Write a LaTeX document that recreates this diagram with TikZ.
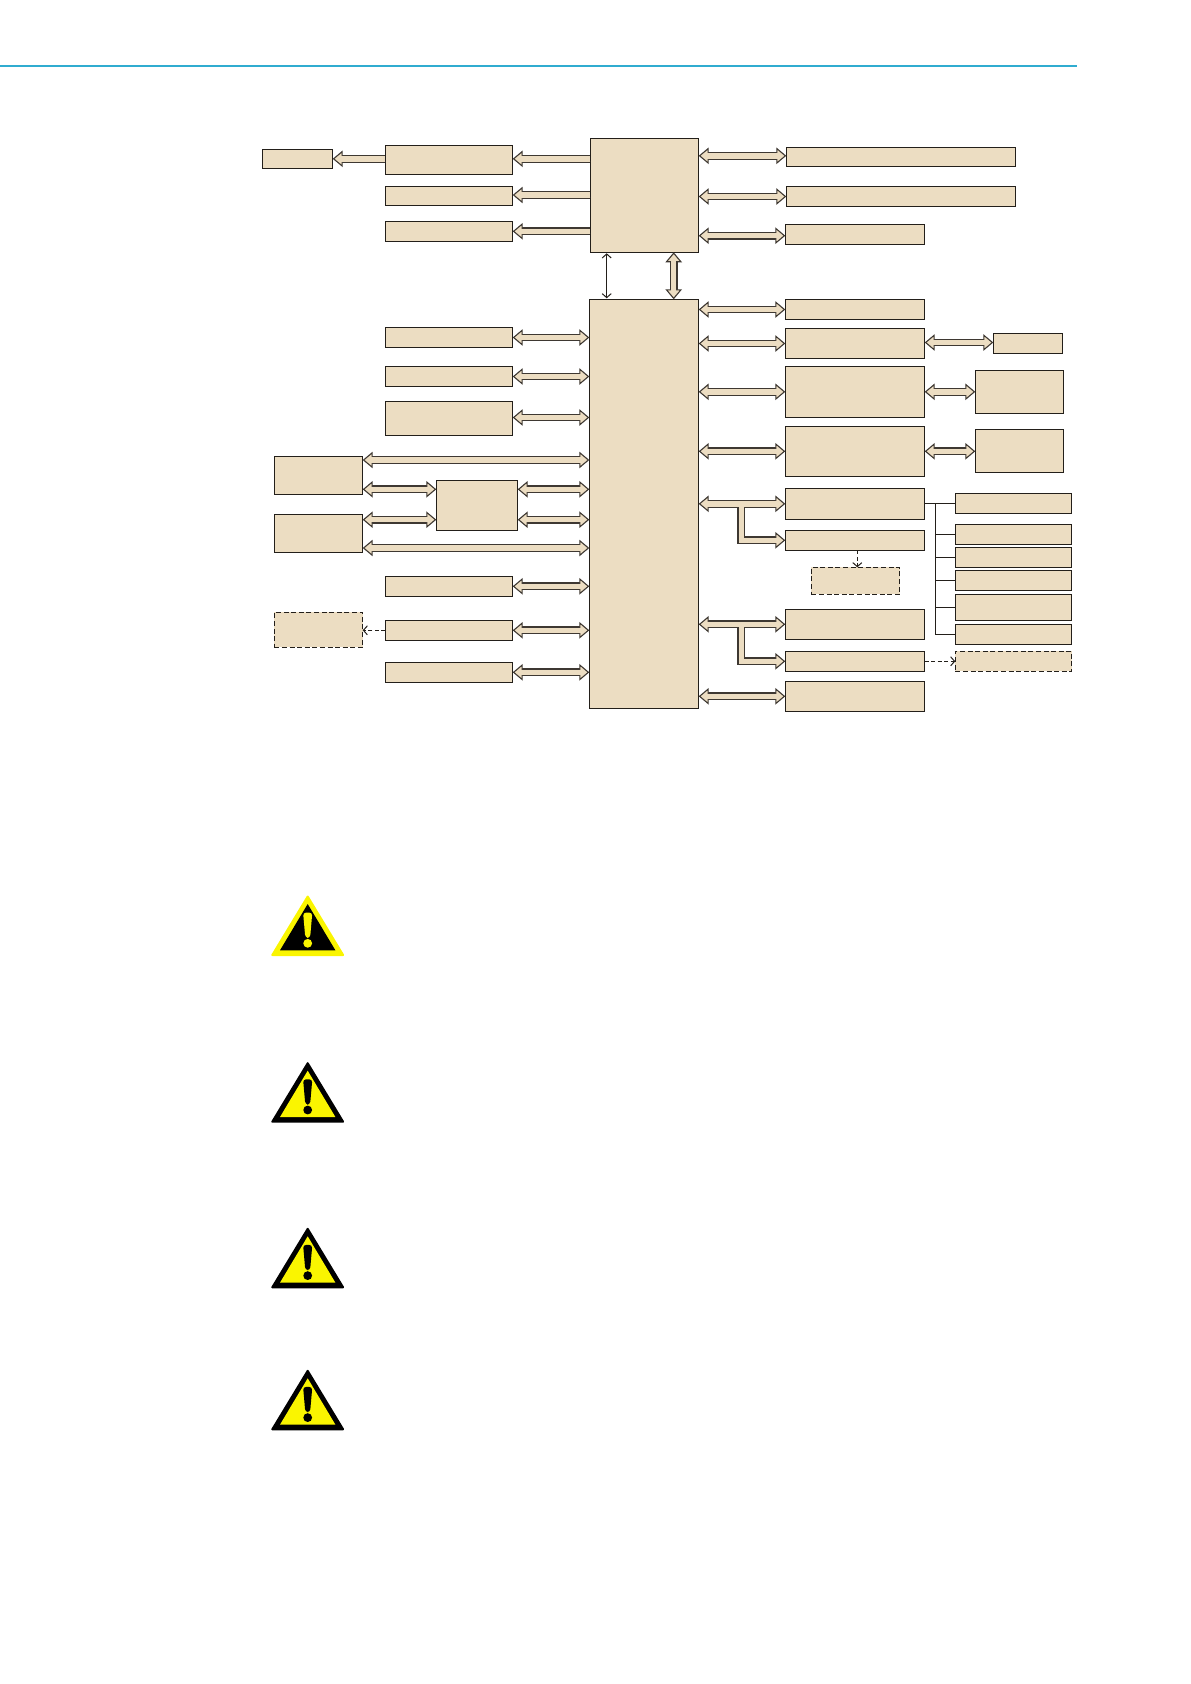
\documentclass[tikz,border=0pt]{standalone}
\usepackage{xcolor}
\usepackage{tikz}
\usetikzlibrary{arrows.meta,positioning}
\definecolor{blocktan}{RGB}{236, 221, 194}
\definecolor{blockline}{RGB}{35, 31, 26}
\definecolor{arrowline}{RGB}{62, 56, 50}
\definecolor{headerblue}{RGB}{48, 172, 208}
\definecolor{warnyellow}{RGB}{250, 245, 0}
\newcommand{\warnsign}[3]{
    \begin{scope}[shift={#1}]
        \fill[#2, draw=#2, line width=2pt, line join=round] (0,1.5) -- (35.4,60) -- (-35.4,60) -- cycle;
        \fill[#3] (0,9) -- (27.7,55.3) -- (-27.7,55.3) -- cycle;
        \fill[#2, rounded corners=3pt] (-4.6,17.6) -- (4.6,17.6) -- (2.4,42.8) -- (-2.4,42.8) -- cycle;
        \fill[#2] (0,48.3) circle[radius=4.4];
    \end{scope}
}

\begin{document}
\begin{tikzpicture}[
    x=1pt, y=-1pt,
    every node/.style={inner sep=0pt, outer sep=0pt},
    block/.style={rectangle, draw=blockline, fill=blocktan, line width=1.1pt},
    blockwide/.style={block, minimum width=127.4pt},
    blockright/.style={block, minimum width=139.4pt},
    blocklist/.style={block, minimum width=116.4pt},
    blockside/.style={block, minimum width=88.4pt},
    optional/.style={dashed, dash pattern=on 5pt off 2.6pt},
    fattip/.tip={Triangle[length=10pt, width=16.5pt, line width=1.1pt, fill=blocktan, color=arrowline]},
    thintip/.tip={Straight Barb[length=4pt, width=9pt, line width=1pt]},
    fatbase/.style={draw=arrowline, line width=7.8pt},
    fatcover/.style={draw=blocktan, line width=5.4pt},
    fatboth/.style={fatbase, fattip-fattip, postaction={fatcover, arrows=-, shorten <=8.5pt, shorten >=8.5pt}},
    fatone/.style={fatbase, -fattip, postaction={fatcover, arrows=-, shorten >=8.5pt}},
    thinboth/.style={draw=blockline, line width=1pt, thintip-thintip, shorten <=1pt, shorten >=1pt},
    dashlink/.style={draw=blockline, line width=1pt, -thintip, dash pattern=on 4pt off 2.5pt},
    busline/.style={draw=blockline, line width=1pt}
]
    \useasboundingbox (0,0) rectangle (1191,1684);

    \coordinate (headstart) at (0,65.7);
    \coordinate (headend) at (1076.7,65.7);
    \draw[headerblue, line width=1.6pt] (headstart) -- (headend);

    \node[block, minimum width=108.4pt, minimum height=114pt, anchor=north west] (chip) at (590.3,138.3) {};
    \node[block, minimum width=109.4pt, minimum height=409pt, anchor=north west] (main) at (589.3,299.3) {};

    \node[blockwide, minimum height=29pt, anchor=north west] (b1) at (385.3,145.3) {};
    \node[blockwide, minimum height=19.4pt, below=12pt of b1] (b2) {};
    \node[blockwide, minimum height=20pt, below=15.6pt of b2] (b3) {};
    \node[block, minimum width=70.4pt, minimum height=19pt, left=52.6pt of b1, yshift=1pt] (a1) {};

    \node[blockwide, minimum height=20.4pt, anchor=north west] (l1) at (385.3,327.3) {};
    \node[blockwide, minimum height=20.4pt, below=18.6pt of l1] (l2) {};
    \node[blockwide, minimum height=34.4pt, below=14.6pt of l2] (l3) {};
    \node[blockwide, minimum height=20pt, below=140.6pt of l3] (l4) {};
    \node[blockwide, minimum height=20pt, below=24pt of l4] (l5) {};
    \node[blockwide, minimum height=20pt, below=22pt of l5] (l6) {};

    \node[blockside, minimum height=38pt, anchor=north west] (c1) at (274.3,456.3) {};
    \node[blockside, minimum height=38pt, below=20pt of c1] (c2) {};
    \node[blockside, optional, minimum height=35pt, anchor=north west] (c3) at (274.3,612.3) {};
    \node[block, minimum width=81.4pt, minimum height=50pt, anchor=north west] (mid) at (436.3,480.3) {};

    \node[block, minimum width=229.4pt, minimum height=19pt, anchor=north west] (r1) at (786.3,147.3) {};
    \node[block, minimum width=229.4pt, minimum height=20.4pt, below=20pt of r1] (r2) {};

    \node[blockright, minimum height=20pt, anchor=north west] (r3) at (785.3,224.3) {};
    \node[blockright, minimum height=20.4pt, below=55pt of r3] (r4) {};
    \node[blockright, minimum height=30.4pt, below=8.6pt of r4] (r5) {};
    \node[blockright, minimum height=51pt, below=7.6pt of r5] (r6) {};
    \node[blockright, minimum height=50pt, below=9pt of r6] (r7) {};
    \node[blockright, minimum height=31pt, below=12pt of r7] (r8) {};
    \node[blockright, minimum height=20pt, below=11pt of r8] (r9) {};
    \node[blockside, optional, minimum height=27pt, below=17pt of r9, xshift=0.5pt] (r9d) {};
    \node[blockright, minimum height=30pt, below=59pt of r9] (r10) {};
    \node[blockright, minimum height=20pt, below=12pt of r10] (r11) {};
    \node[blockright, minimum height=30pt, below=10pt of r11] (r12) {};

    \node[block, minimum width=69.4pt, minimum height=20.4pt, right=68.6pt of r5] (r5b) {};
    \node[blockside, minimum height=43.4pt, right=50.6pt of r6] (r6b) {};
    \node[blockside, minimum height=43pt, right=50.6pt of r7] (r7b) {};

    \node[blocklist, minimum height=20pt, anchor=north west] (s1) at (955.3,493.3) {};
    \node[blocklist, minimum height=20pt, below=11pt of s1] (s2) {};
    \node[blocklist, minimum height=20pt, below=3pt of s2] (s3) {};
    \node[blocklist, minimum height=20pt, below=3pt of s3] (s4) {};
    \node[blocklist, minimum height=26pt, below=4pt of s4] (s5) {};
    \node[blocklist, minimum height=20pt, below=4pt of s5] (s6) {};
    \node[blocklist, optional, minimum height=20pt, below=7pt of s6] (s7) {};

    \draw[fatone] (b1.west |- a1.east) -- (a1.east);
    \draw[fatone] ([yshift=1pt]b1.east -| chip.west) -- ([yshift=1pt]b1.east);
    \draw[fatone] ([yshift=1pt]b2.east -| chip.west) -- ([yshift=1pt]b2.east);
    \draw[fatone] (b3.east -| chip.west) -- (b3.east);

    \draw[thinboth] ([xshift=-37.8pt]chip.south) -- ([xshift=-37.8pt]chip.south |- main.north);
    \draw[fatboth] ([xshift=29.2pt]chip.south) -- ([xshift=29.2pt]chip.south |- main.north);

    \draw[fatboth] (l1.east) -- (l1.east -| main.west);
    \draw[fatboth] (l2.east) -- (l2.east -| main.west);
    \draw[fatboth] ([yshift=1pt]l3.east) -- ([yshift=1pt]l3.east -| main.west);
    \draw[fatboth] (l4.east) -- (l4.east -| main.west);
    \draw[fatboth] (l5.east) -- (l5.east -| main.west);
    \draw[fatboth] (l6.east) -- (l6.east -| main.west);

    \draw[fatboth] ([yshift=-3.7pt]c1.north east) -- ([yshift=-3.7pt]c1.north east -| main.west);
    \draw[fatboth] ([yshift=5pt]c1.south east) -- ([yshift=5pt]c1.south east -| mid.west);
    \draw[fatboth] ([yshift=-9pt]mid.north east) -- ([yshift=-9pt]mid.north east -| main.west);
    \draw[fatboth] ([yshift=-5.4pt]c2.north east) -- ([yshift=-5.4pt]c2.north east -| mid.west);
    \draw[fatboth] ([yshift=10.6pt]mid.south east) -- ([yshift=10.6pt]mid.south east -| main.west);
    \draw[fatboth] ([yshift=4.3pt]c2.south east) -- ([yshift=4.3pt]c2.south east -| main.west);

    \draw[dashlink] (l5.west) -- (l5.west -| c3.east);

    \draw[fatboth] ([yshift=1pt]r1.west -| chip.east) -- ([yshift=1pt]r1.west);
    \draw[fatboth] (r2.west -| chip.east) -- (r2.west);
    \draw[fatboth] ([yshift=-1.4pt]r3.west -| chip.east) -- ([yshift=-1.4pt]r3.west);
    \draw[fatboth] (r4.west -| main.east) -- (r4.west);
    \draw[fatboth] (r5.west -| main.east) -- (r5.west);
    \draw[fatboth] (r6.west -| main.east) -- (r6.west);
    \draw[fatboth] (r7.west -| main.east) -- (r7.west);
    \draw[fatboth] (r12.west -| main.east) -- (r12.west);

    \draw[fatboth] ([yshift=1pt]r5.east) -- ([yshift=1pt]r5.east -| r5b.west);
    \draw[fatboth] (r6.east) -- (r6b.west);
    \draw[fatboth] (r7.east) -- (r7b.west);

    \coordinate (tee8) at ([xshift=-44pt]r8.west);
    \coordinate (tee10) at ([xshift=-44pt]r10.west);
    \draw[fatone] (tee8) |- (r9.west);
    \draw[fatboth] (r8.west -| main.east) -- (r8.west);
    \draw[fatcover] (tee8) -- ++(0,8);
    \draw[fatone] (tee10) |- (r11.west);
    \draw[fatboth] (r10.west -| main.east) -- (r10.west);
    \draw[fatcover] (tee10) -- ++(0,8);

    \draw[dashlink] ([xshift=2.3pt]r9.south) -- ([xshift=2.3pt]r9.south |- r9d.north);
    \draw[dashlink] (r11.east) -- (r11.east -| s7.west);

    \coordinate (bus) at ([xshift=11pt]r8.east);
    \draw[busline] (r8.east) -- (r8.east -| s1.west);
    \draw[busline] (bus) |- (s6.west);
    \draw[busline] (s2.west -| bus) -- (s2.west);
    \draw[busline] (s3.west -| bus) -- (s3.west);
    \draw[busline] (s4.west -| bus) -- (s4.west);
    \draw[busline] (s5.west -| bus) -- (s5.west);

    \warnsign{(307.7,895)}{warnyellow}{black}
    \warnsign{(307.7,1061.7)}{black}{warnyellow}
    \warnsign{(307.7,1227.3)}{black}{warnyellow}
    \warnsign{(307.7,1369.3)}{black}{warnyellow}
\end{tikzpicture}
\end{document}
